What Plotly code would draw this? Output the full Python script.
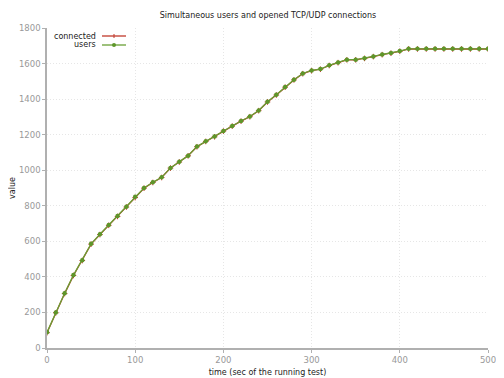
import plotly.graph_objects as go

time_s = list(range(0, 501, 10))
users = [88, 200, 308, 410, 494, 586, 640, 692, 742, 795,
         851, 900, 932, 960, 1013, 1047, 1082, 1133, 1163, 1189,
         1221, 1249, 1277, 1302, 1336, 1385, 1424, 1468, 1509, 1544,
         1561, 1569, 1590, 1606, 1622, 1622, 1630, 1640, 1651, 1659,
         1670, 1683, 1683, 1683, 1683, 1683, 1683, 1683, 1683, 1683, 1683]
connected = [86, 198, 306, 408, 492, 584, 638, 690, 740, 793,
             846, 899, 931, 959, 1012, 1046, 1081, 1132, 1162, 1188,
             1220, 1248, 1276, 1301, 1335, 1384, 1423, 1467, 1508, 1543,
             1560, 1568, 1589, 1605, 1621, 1621, 1629, 1639, 1650, 1658,
             1669, 1682, 1682, 1682, 1682, 1682, 1682, 1682, 1682, 1682, 1682]
x_ticks = [0, 100, 200, 300, 400, 500]
y_ticks = [0, 200, 400, 600, 800, 1000, 1200, 1400, 1600, 1800]

RED = "#c0392b"
GREEN = "#6a9f35"
FONT = "DejaVu Sans"

# the page body has an 8px margin, so the figure is drawn 8px in from the window corner
OFF = 8
W, H = 504 - OFF, 378 - OFF
PL, PR, PT, PB = 47, 488, 28, 348  # plot area in window pixels

fig = go.Figure()
fig.add_trace(go.Scatter(x=time_s, y=connected, mode="lines+markers", name="connected",
                         line=dict(color=RED, width=1.3),
                         marker=dict(symbol="cross-thin", size=4, line=dict(color=RED, width=1))))
fig.add_trace(go.Scatter(x=time_s, y=users, mode="lines+markers", name="users",
                         line=dict(color=GREEN, width=1.3),
                         marker=dict(symbol="circle", size=4.5, color="#5e962a")))

# manual legend (text on the left, sample on the right, as in the original)
legend_items = [("connected", RED, 0), ("users", GREEN, 1)]
pw, ph = PR - PL, PB - PT
for label, col, i in legend_items:
    yp = 36 + 9 * i
    ypaper = 1 - (yp - PT) / ph
    fig.add_annotation(text=label, xref="paper", yref="paper", x=(98 - PL) / pw, y=ypaper,
                       xanchor="right", yanchor="middle", showarrow=False,
                       font=dict(family=FONT, size=8, color="#222"))
    fig.add_shape(type="line", xref="paper", yref="paper", x0=(102 - PL) / pw, x1=(126 - PL) / pw,
                  y0=ypaper, y1=ypaper, line=dict(color=col, width=1.3))
    xm = (114 - PL) / pw
    if label == "users":
        fig.add_shape(type="circle", xref="paper", yref="paper",
                      x0=xm - 2 / pw, x1=xm + 2 / pw, y0=ypaper - 2 / ph, y1=ypaper + 2 / ph,
                      fillcolor="#5e962a", line=dict(width=0))
    else:
        fig.add_shape(type="line", xref="paper", yref="paper", x0=xm, x1=xm,
                      y0=ypaper - 2 / ph, y1=ypaper + 2 / ph, line=dict(color=RED, width=1))

fig.update_layout(
    width=W, height=H,
    margin=dict(l=PL - OFF, r=504 - PR, t=PT - OFF, b=378 - PB, autoexpand=False),
    paper_bgcolor="white", plot_bgcolor="white",
    showlegend=False,
    font=dict(family=FONT, size=8, color="#222"),
    title=dict(text="Simultaneous users and opened TCP/UDP connections",
               x=(268 - OFF) / W, xanchor="center", y=1 - (15 - OFF) / H, yanchor="middle",
               font=dict(family=FONT, size=8, color="#222")),
)
fig.update_xaxes(range=[0, 500], tickvals=x_ticks, showgrid=True, automargin=False,
                 gridcolor="#e6e6e6", griddash="1px,2px", gridwidth=1,
                 showline=True, linecolor="#b0b0b0", linewidth=1.5,
                 ticks="outside", ticklen=3, tickcolor="#b0b0b0",
                 tickfont=dict(family=FONT, size=8.5, color="#999"),
                 zeroline=False,
                 title=dict(text="time (sec of the running test)", standoff=5,
                            font=dict(family=FONT, size=8, color="#222")))
fig.update_yaxes(range=[0, 1800], tickvals=y_ticks, showgrid=True, automargin=False,
                 gridcolor="#e6e6e6", griddash="1px,2px", gridwidth=1,
                 showline=True, linecolor="#b0b0b0", linewidth=1.5,
                 ticks="outside", ticklen=3, tickcolor="#b0b0b0",
                 tickfont=dict(family=FONT, size=8.5, color="#999"),
                 zeroline=False,
                 title=dict(text="value", standoff=14,
                            font=dict(family=FONT, size=8, color="#222")))

fig.write_html("out.html")
